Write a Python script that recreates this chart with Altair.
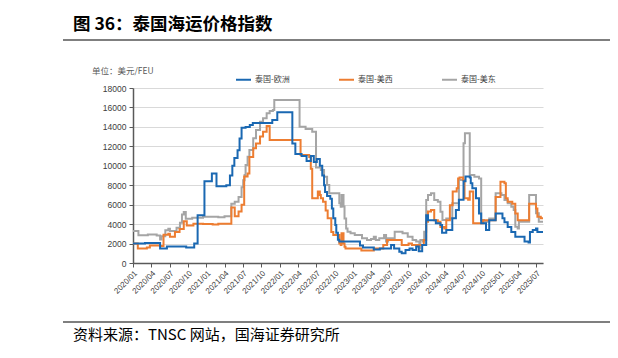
import altair as alt
import pandas as pd

# ---- data (step change points) ----
eu_dates = ["2020-01-01","2020-03-01","2020-05-15","2020-06-18","2020-09-22","2020-11-01","2020-11-18","2020-12-22",
            "2021-01-28","2021-02-20","2021-04-10","2021-04-28","2021-05-10","2021-05-20","2021-06-05","2021-06-15",
            "2021-06-25","2021-07-15","2021-08-05","2021-08-20","2021-11-25","2021-12-20","2022-03-05","2022-03-20",
            "2022-04-20","2022-05-15","2022-06-05","2022-06-20","2022-07-05","2022-07-20","2022-08-01","2022-08-10",
            "2022-08-15","2022-08-25","2022-09-10","2022-09-18","2022-09-25","2022-10-05","2022-10-10","2022-10-18",
            "2022-10-25","2023-02-05","2023-02-20","2023-04-15","2023-05-15","2023-07-10","2023-07-25","2023-08-20",
            "2023-09-01","2023-09-20","2023-10-10","2023-10-25","2023-11-12","2023-11-25","2023-12-12","2024-01-01",
            "2024-01-10","2024-02-18","2024-03-12","2024-03-20","2024-04-10","2024-05-10","2024-05-28","2024-06-12",
            "2024-07-05","2024-07-15","2024-08-05","2024-08-10","2024-08-18","2024-09-05","2024-09-20","2024-10-01",
            "2024-10-25","2024-11-10","2024-12-12","2025-01-15","2025-01-25","2025-02-10","2025-02-28","2025-03-20",
            "2025-05-05","2025-05-25","2025-06-01","2025-06-15","2025-07-01","2025-07-08","2025-08-05"]
eu_values = [2000,2050,1500,1700,1600,2000,4900,8400,
             9200,7900,8000,9000,10000,10800,11600,12800,
             13900,14000,14200,14400,14700,15500,12300,11200,
             11000,10500,11000,10400,10700,10000,9000,8000,
             7300,6900,6600,5600,4600,3900,3100,2400,
             2200,1800,1600,1400,1500,1850,1500,1150,
             1000,1350,1500,1350,1700,1200,1850,4900,
             4400,4100,3900,3100,3400,4600,5450,6500,
             8400,8900,8800,8200,7700,6650,5100,4100,
             3400,4400,5100,4600,4200,3700,3200,2700,
             2200,2100,3200,3400,3550,3200,3200]

usw_dates = ["2020-01-01","2020-01-25","2020-03-10","2020-03-25","2020-05-15","2020-06-01","2020-06-25","2020-07-03",
             "2020-07-28","2020-08-20","2020-09-10","2020-09-25","2020-10-28","2020-12-15","2021-02-01","2021-03-01",
             "2021-05-05","2021-05-22","2021-06-10","2021-06-25","2021-07-08","2021-07-25","2021-08-03","2021-08-22",
             "2021-09-05","2021-09-25","2021-10-10","2021-10-28","2021-11-12","2022-04-15","2022-05-28","2022-06-05",
             "2022-06-12","2022-07-10","2022-07-20","2022-07-25","2022-08-05","2022-08-18","2022-08-28","2022-09-15",
             "2022-09-25","2022-10-25","2022-11-01","2022-11-05","2022-11-15","2022-11-20","2022-11-25","2023-02-12",
             "2023-04-15","2023-06-01","2023-06-20","2023-09-01","2023-10-05","2023-10-22","2023-12-20","2024-01-01",
             "2024-01-10","2024-01-25","2024-02-10","2024-02-28","2024-03-12","2024-03-31","2024-04-10","2024-04-28",
             "2024-05-12","2024-06-01","2024-06-08","2024-06-15","2024-07-03","2024-07-10","2024-07-28","2024-08-05",
             "2024-08-22","2024-10-10","2024-12-12","2025-01-05","2025-01-25","2025-02-01","2025-02-10","2025-03-05",
             "2025-03-20","2025-04-01","2025-05-28","2025-07-01","2025-07-08","2025-07-25","2025-08-05"]
usw_values = [2000,1500,1600,1800,1750,2900,3000,2700,
              3200,3500,4300,3850,4050,4000,3950,4050,
              5700,4800,5300,6000,8900,9200,10900,11800,
              12300,13000,13500,14100,12650,11100,10900,9700,
              6650,7350,7000,6650,6300,5400,4600,3200,
              2880,2000,1850,3050,2000,1680,1500,1280,
              1500,1850,2370,1850,2000,1850,2370,4250,
              5300,5450,4400,4250,3700,3550,4400,5950,
              7350,7700,8700,8800,8500,6650,6500,7350,
              4100,4400,6800,8350,8200,6650,6300,6100,
              5100,4400,6100,5600,4750,4600,4600]

use_dates = ["2020-01-01","2020-01-28","2020-03-15","2020-04-28","2020-05-15","2020-05-22","2020-06-10","2020-06-25",
             "2020-07-03","2020-08-05","2020-08-22","2020-09-01","2020-09-10","2020-09-20","2020-10-22","2020-12-15",
             "2021-03-01","2021-04-01","2021-05-05","2021-05-22","2021-06-10","2021-06-25","2021-07-03","2021-07-10",
             "2021-07-15","2021-07-25","2021-08-03","2021-08-22","2021-09-05","2021-09-25","2021-10-10","2021-10-28",
             "2021-11-12","2021-11-28","2021-12-05","2022-04-10","2022-05-10","2022-06-12","2022-07-01","2022-07-25",
             "2022-08-10","2022-08-25","2022-09-05","2022-10-15","2022-10-25","2022-11-01","2022-11-05","2022-11-15",
             "2022-11-20","2022-11-28","2022-12-05","2022-12-20","2023-01-10","2023-02-15","2023-03-12","2023-04-01",
             "2023-04-15","2023-04-25","2023-05-12","2023-06-05","2023-06-15","2023-06-25","2023-07-18","2023-07-28",
             "2023-09-05","2023-10-01","2023-10-25","2023-11-12","2023-11-28","2023-12-03","2023-12-15","2023-12-22",
             "2024-01-01","2024-01-10","2024-01-25","2024-02-10","2024-02-28","2024-03-12","2024-03-22","2024-04-10",
             "2024-05-10","2024-06-12","2024-07-05","2024-07-12","2024-08-05","2024-08-28","2024-09-20","2024-10-01",
             "2024-10-15","2024-11-10","2024-12-12","2025-01-10","2025-01-25","2025-02-10","2025-02-28","2025-03-12",
             "2025-03-20","2025-04-01","2025-04-07","2025-05-28","2025-07-01","2025-07-15","2025-08-05"]
use_values = [3280,2860,2930,2830,2410,2760,3380,3520,
              3280,3620,4140,5000,5240,4550,4650,4750,
              4700,4800,6100,6300,6800,7800,8500,9050,
              10080,10940,11620,12820,13680,14540,14880,15400,
              15640,15740,16770,14020,13790,13510,9830,9570,
              8880,8020,7170,7170,6140,5790,6990,5800,
              4590,3560,3220,3050,2880,2540,2370,2460,
              2710,2370,2540,2880,2200,2540,2370,3220,
              3050,2710,2370,2200,1500,2370,2200,3220,
              6480,6990,7170,6480,6310,5280,4420,4590,
              6140,8540,12310,13340,9050,8880,8700,4420,
              4250,4590,7170,7000,6480,6140,5790,5450,
              3730,3560,4250,6990,5110,4250,4250]

series_names = ["泰国-欧洲", "泰国-美西", "泰国-美东"]
series_colors = ["#1a68b2", "#ed7d31", "#a5a5a5"]
y_ticks = list(range(0, 18001, 2000))
tick_months = [(y, m) for y in range(2020, 2026) for m in (1, 4, 7, 10) if not (y == 2025 and m == 10)]

title_text = "图 36：泰国海运价格指数"
unit_text = "单位：美元/FEU"
source_text = "资料来源：TNSC 网站，国海证券研究所"

frames = []
for name, d, v in [(series_names[2], use_dates, use_values),
                   (series_names[1], usw_dates, usw_values),
                   (series_names[0], eu_dates, eu_values)]:
    frames.append(pd.DataFrame({"date": d, "value": v, "series": name}))
df = pd.concat(frames, ignore_index=True)

W, H = 410, 175

x_enc = alt.X("date:T",
              scale=alt.Scale(type="utc",
                              domain=[alt.DateTime(year=2020, month=1, date=1, utc=True),
                                      alt.DateTime(year=2025, month=8, date=5, utc=True)]),
              axis=alt.Axis(values=[alt.DateTime(year=y, month=m, date=1, utc=True) for y, m in tick_months],
                            format="%Y/%m", labelAngle=-45, labelFontSize=8, labelColor="#404040",
                            labelFont="Liberation Sans", tickSize=4, tickColor="#595959",
                            domainColor="#595959", domainWidth=1.5, grid=False, title=None,
                            labelPadding=2, labelOverlap=False))
y_enc = alt.Y("value:Q", scale=alt.Scale(domain=[0, 18000], nice=False),
              axis=alt.Axis(values=y_ticks, format="d", labelFontSize=8.5, labelColor="#404040",
                            labelFont="Liberation Sans", tickSize=4, tickColor="#595959",
                            domainColor="#595959", domainWidth=1.5, grid=True,
                            gridColor="#d9d9d9", gridWidth=1, title=None, labelPadding=3))

lines = alt.Chart(df).mark_line(interpolate="step-after", strokeWidth=2).encode(
    x=x_enc, y=y_enc,
    color=alt.Color("series:N",
                    scale=alt.Scale(domain=series_names, range=series_colors),
                    sort=series_names,
                    legend=alt.Legend(orient="none", legendX=102, legendY=-17, direction="horizontal",
                                      title=None, symbolType="stroke", symbolStrokeWidth=2,
                                      symbolSize=225, labelFont="Noto Sans CJK SC", labelFontSize=8,
                                      labelColor="#404040", columnPadding=45, labelOffset=3)),
)

one = pd.DataFrame({"k": [0]})
def txt(text, x, y, size, weight="normal", color="#000000", align="left"):
    return alt.Chart(one).mark_text(text=text, fontSize=size, fontWeight=weight, color=color,
                                    font="Noto Sans CJK SC", align=align, baseline="middle").encode(
        x=alt.value(x), y=alt.value(y))

def hline(y):
    return alt.Chart(one).mark_rule(color="#000000", strokeWidth=1.2).encode(
        x=alt.value(-70), x2=alt.value(477), y=alt.value(y))

chart = alt.layer(
    lines,
    txt(title_text, -60, -63, 17.5, "bold"),
    hline(-48),
    txt(unit_text, -41, -17, 8.5, color="#595959"),
    hline(234),
    txt(source_text, -60, 247, 15),
).properties(
    width=W, height=H,
    padding={"left": 125, "top": 80, "right": 67, "bottom": 87},
    autosize=alt.AutoSizeParams(type="none"),
).configure_view(stroke=None)

chart.save("out.html", embed_options={"renderer": "svg", "actions": False})
